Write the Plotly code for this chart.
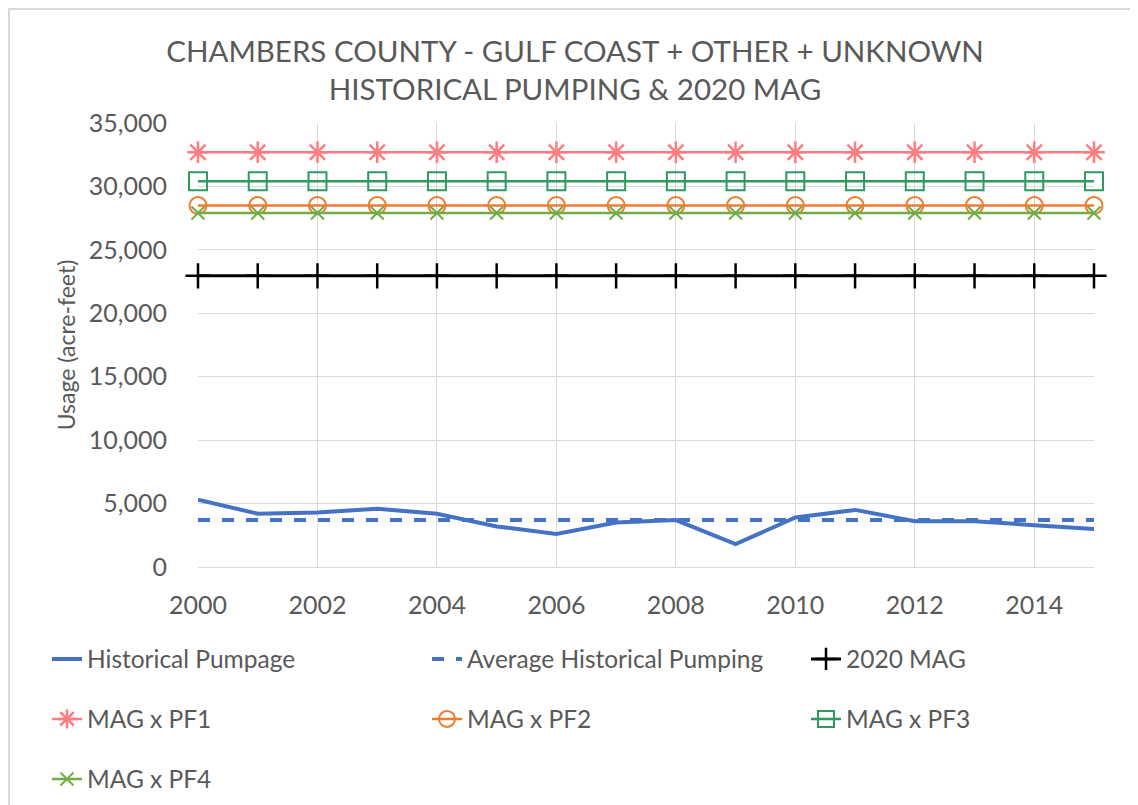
import plotly.graph_objects as go

years = list(range(2000, 2016))
historical = [5300, 4200, 4300, 4600, 4200, 3200, 2600, 3500, 3700, 1800, 3900, 4500, 3600, 3600, 3300, 3000]
average_hist = [3700] * 16
mag_2020 = [22950] * 16
mag_pf1 = [32700] * 16
mag_pf2 = [28500] * 16
mag_pf3 = [30400] * 16
mag_pf4 = [27900] * 16

FONT = "Lato"
GREY = "#595959"

# the page body adds an 8px margin, so the figure is laid out in its own coordinates
OFF = 8
W, H = 1138 - OFF, 805 - OFF
L, R, T, B = 198 - OFF, 1138 - 1094, 123 - OFF, 805 - 567
pw, ph = W - L - R, H - T - B


def px_x(p):
    return (p - OFF - L) / pw


def px_y(p):
    return (H - B - (p - OFF)) / ph


fig = go.Figure()

fig.add_trace(go.Scatter(x=years, y=historical, mode="lines", name="Historical Pumpage",
                         line=dict(color="#4472C4", width=4), cliponaxis=False,
                         legend="legend", showlegend=True))
fig.add_trace(go.Scatter(x=years, y=average_hist, mode="lines", name="Average Historical Pumping",
                         line=dict(color="#4472C4", width=4, dash="dash"), cliponaxis=False,
                         legend="legend2", showlegend=True))
fig.add_trace(go.Scatter(x=years, y=mag_2020, mode="lines+markers", name="2020 MAG",
                         line=dict(color="#000000", width=3),
                         marker=dict(symbol="cross-thin", size=18, line=dict(color="#000000", width=2.5)),
                         cliponaxis=False, legend="legend3", showlegend=True))
fig.add_trace(go.Scatter(x=years, y=mag_pf1, mode="lines+markers", name="MAG x PF1",
                         line=dict(color="#FF7C80", width=2.5),
                         marker=dict(symbol="asterisk-open", size=18, line=dict(color="#FF7C80", width=2.5)),
                         cliponaxis=False, legend="legend4", showlegend=True))
fig.add_trace(go.Scatter(x=years, y=mag_pf2, mode="lines+markers", name="MAG x PF2",
                         line=dict(color="#ED7D31", width=2.5),
                         marker=dict(symbol="circle-open", size=17, line=dict(color="#ED7D31", width=2)),
                         cliponaxis=False, legend="legend5", showlegend=True))
fig.add_trace(go.Scatter(x=years, y=mag_pf3, mode="lines+markers", name="MAG x PF3",
                         line=dict(color="#2E9960", width=2.5),
                         marker=dict(symbol="square-open", size=18, line=dict(color="#2E9960", width=2)),
                         cliponaxis=False, legend="legend6", showlegend=True))
fig.add_trace(go.Scatter(x=years, y=mag_pf4, mode="lines+markers", name="MAG x PF4",
                         line=dict(color="#70AD47", width=2.5),
                         marker=dict(symbol="x-thin-open", size=13, line=dict(color="#70AD47", width=2)),
                         cliponaxis=False, legend="legend7", showlegend=True))

legend_common = dict(orientation="h", font=dict(family=FONT, size=24.5, color=GREY),
                     bgcolor="rgba(0,0,0,0)", xanchor="left", yanchor="middle", itemwidth=30)

# legend text starts at page x 88 / 468 / 847, rows centred at page y 659 / 719 / 779
col_x = [47, 427, 806]
row_y = [659, 719, 779]

fig.update_layout(
    width=W, height=H,
    showlegend=True,
    margin=dict(l=L, r=R, t=T, b=B, autoexpand=False),
    paper_bgcolor="white", plot_bgcolor="white",
    font=dict(family=FONT, color=GREY),
    title=dict(text="CHAMBERS COUNTY - GULF COAST + OTHER + UNKNOWN<br>HISTORICAL PUMPING & 2020 MAG",
               x=(575 - OFF) / W, xref="container", xanchor="center",
               y=1 - 54 / H, yref="container", yanchor="middle",
               font=dict(family=FONT, size=29.5, color=GREY)),
    xaxis=dict(range=[2000, 2015], tick0=2000, dtick=2, showgrid=True, gridcolor="#D9D9D9", gridwidth=1,
               showline=True, linecolor="#D9D9D9", linewidth=1, zeroline=False,
               ticks="", ticklabelstandoff=16,
               tickfont=dict(family=FONT, size=25, color=GREY)),
    yaxis=dict(range=[0, 35000], tick0=0, dtick=5000, tickformat=",", showgrid=True,
               gridcolor="#D9D9D9", gridwidth=1, zeroline=False, showline=False,
               ticks="", ticklabelstandoff=30,
               tickfont=dict(family=FONT, size=25, color=GREY),
               title=dict(text="Usage (acre-feet)", standoff=6,
                          font=dict(family=FONT, size=23, color=GREY))),
    legend=dict(x=px_x(col_x[0]), y=px_y(row_y[0]), visible=True, **legend_common),
    legend2=dict(x=px_x(col_x[1]), y=px_y(row_y[0]), **legend_common),
    legend3=dict(x=px_x(col_x[2]), y=px_y(row_y[0]), **legend_common),
    legend4=dict(x=px_x(col_x[0]), y=px_y(row_y[1]), **legend_common),
    legend5=dict(x=px_x(col_x[1]), y=px_y(row_y[1]), **legend_common),
    legend6=dict(x=px_x(col_x[2]), y=px_y(row_y[1]), **legend_common),
    legend7=dict(x=px_x(col_x[0]), y=px_y(row_y[2]), **legend_common),
    shapes=[
        dict(type="line", xref="paper", yref="paper", x0=px_x(8), x1=px_x(1138), y0=px_y(9), y1=px_y(9),
             line=dict(color="#D9D9D9", width=2)),
        dict(type="line", xref="paper", yref="paper", x0=px_x(9), x1=px_x(9), y0=px_y(9), y1=px_y(805),
             line=dict(color="#D9D9D9", width=2)),
    ],
)

fig.write_html("out.html")
